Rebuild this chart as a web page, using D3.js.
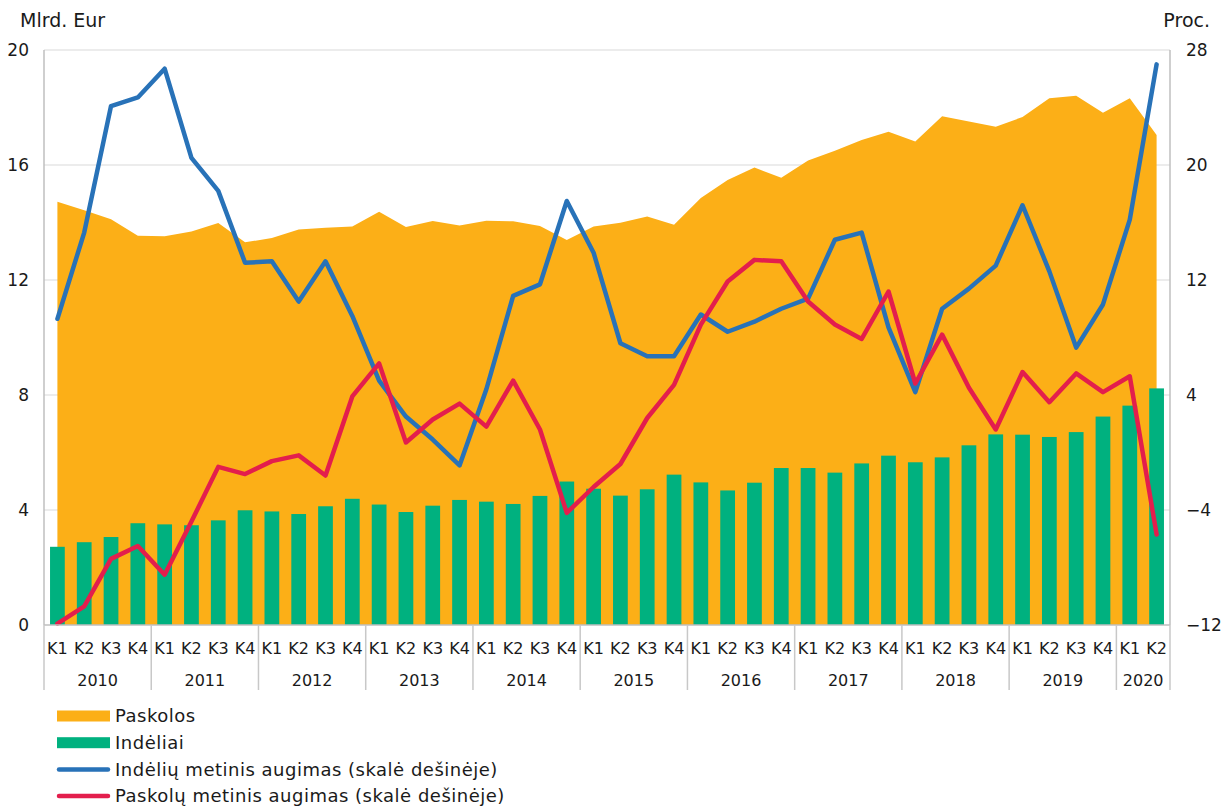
<!DOCTYPE html>
<html>
<head>
<meta charset="utf-8">
<script src="https://cdn.jsdelivr.net/npm/d3@7"></script>
<style>
  body { margin: 0; background: #fff; }
  svg { display: block; font-family: "DejaVu Sans", Verdana, sans-serif; }
</style>
</head>
<body>
<svg width="1221" height="808"></svg>
<script>
var years = ["2010", "2011", "2012", "2013", "2014", "2015", "2016", "2017", "2018", "2019", "2020"];
var quarters = ["K1", "K2", "K3", "K4"];

// Mlrd. Eur (left scale)
var loans = [14.72, 14.43, 14.11, 13.54, 13.52, 13.69, 13.98, 13.31, 13.46, 13.76, 13.82, 13.86,
  14.37, 13.84, 14.05, 13.90, 14.06, 14.04, 13.88, 13.39, 13.86, 13.99, 14.21, 13.92,
  14.85, 15.48, 15.91, 15.56, 16.16, 16.50, 16.87, 17.16, 16.82, 17.70, 17.51, 17.33,
  17.67, 18.32, 18.41, 17.82, 18.32, 17.04];
var deposits = [2.72, 2.88, 3.06, 3.54, 3.50, 3.47, 3.64, 3.99, 3.95, 3.86, 4.13, 4.39,
  4.19, 3.93, 4.15, 4.35, 4.29, 4.21, 4.49, 4.99, 4.74, 4.50, 4.72, 5.23,
  4.96, 4.68, 4.95, 5.46, 5.46, 5.30, 5.62, 5.89, 5.66, 5.83, 6.25, 6.63,
  6.62, 6.54, 6.71, 7.25, 7.63, 8.23];

// Proc. (right scale)
var depositGrowth = [9.3, 15.3, 24.1, 24.7, 26.7, 20.5, 18.2, 13.2, 13.3, 10.5, 13.3, 9.5,
  5.0, 2.5, 0.9, -0.9, 4.4, 10.9, 11.7, 17.5, 13.9, 7.6, 6.7, 6.7,
  9.6, 8.4, 9.1, 10.0, 10.7, 14.8, 15.3, 8.7, 4.2, 10.0, 11.4, 13.0,
  17.2, 12.6, 7.3, 10.3, 16.2, 27.0];
var loanGrowth = [-11.9, -10.7, -7.4, -6.5, -8.5, -4.8, -1.0, -1.5, -0.6, -0.2, -1.6, 3.9,
  6.2, 0.7, 2.3, 3.4, 1.8, 5.0, 1.6, -4.2, -2.4, -0.8, 2.4, 4.7,
  8.9, 11.9, 13.4, 13.3, 10.5, 8.9, 7.9, 11.2, 4.8, 8.2, 4.5, 1.6,
  5.6, 3.5, 5.5, 4.2, 5.3, -5.7];

var leftTicks = [0, 4, 8, 12, 16, 20];
var rightTicks = [-12, -4, 4, 12, 20, 28];

var colors = { loans: "#fcaf17", deposits: "#00b17f", depGrowth: "#2872b8", loanGrowth: "#e31e4d" };

// quarter labels: full years, 2020 only up to K2
var periods = [];
years.forEach(function (y) {
  quarters.forEach(function (q) {
    if (periods.length < loans.length) periods.push({ year: y, q: q });
  });
});

var svg = d3.select("svg");
var plotLeft = 44, plotRight = 1170, plotTop = 50, plotBottom = 625;

var x = d3.scaleBand()
  .domain(d3.range(periods.length))
  .range([plotLeft, plotRight])
  .paddingInner(0.45)
  .paddingOuter(0.225);
var cx = function (i) { return x(i) + x.bandwidth() / 2; };

var yL = d3.scaleLinear().domain([0, 20]).range([plotBottom, plotTop]);
var yR = d3.scaleLinear().domain([-12, 28]).range([plotBottom, plotTop]);

// gridlines
svg.append("g")
  .selectAll("line")
  .data(leftTicks.slice(1))
  .enter().append("line")
  .attr("x1", plotLeft).attr("x2", plotRight)
  .attr("y1", function (d) { return yL(d); })
  .attr("y2", function (d) { return yL(d); })
  .attr("stroke", "#d9d9d9")
  .attr("stroke-width", 1.2);

// loans area
var area = d3.area()
  .x(function (d, i) { return cx(i); })
  .y0(yL(0))
  .y1(function (d) { return yL(d); });

svg.append("path")
  .datum(loans)
  .attr("d", area)
  .attr("fill", colors.loans);

// deposits bars
svg.append("g")
  .selectAll("rect")
  .data(deposits)
  .enter().append("rect")
  .attr("x", function (d, i) { return x(i); })
  .attr("y", function (d) { return yL(d); })
  .attr("width", x.bandwidth())
  .attr("height", function (d) { return yL(0) - yL(d); })
  .attr("fill", colors.deposits);

// growth lines
var lineR = d3.line()
  .x(function (d, i) { return cx(i); })
  .y(function (d) { return yR(d); });

svg.append("path")
  .datum(depositGrowth)
  .attr("d", lineR)
  .attr("fill", "none")
  .attr("stroke", colors.depGrowth)
  .attr("stroke-width", 4.5)
  .attr("stroke-linejoin", "round")
  .attr("stroke-linecap", "round");

svg.append("path")
  .datum(loanGrowth)
  .attr("d", lineR)
  .attr("fill", "none")
  .attr("stroke", colors.loanGrowth)
  .attr("stroke-width", 4.5)
  .attr("stroke-linejoin", "round")
  .attr("stroke-linecap", "round");

// axis lines
svg.append("line")
  .attr("x1", plotLeft).attr("x2", plotLeft).attr("y1", plotTop).attr("y2", plotBottom)
  .attr("stroke", "#bfbfbf").attr("stroke-width", 1.5);
svg.append("line")
  .attr("x1", plotRight).attr("x2", plotRight).attr("y1", plotTop).attr("y2", plotBottom)
  .attr("stroke", "#bfbfbf").attr("stroke-width", 1.5);
svg.append("line")
  .attr("x1", plotLeft).attr("x2", plotRight).attr("y1", plotBottom).attr("y2", plotBottom)
  .attr("stroke", "#bfbfbf").attr("stroke-width", 1.5);

// left axis
var axL = svg.append("g")
  .attr("transform", "translate(" + plotLeft + ",0)")
  .call(d3.axisLeft(yL).tickValues(leftTicks).tickSize(0).tickPadding(15));
axL.select(".domain").remove();
axL.selectAll("text").attr("font-size", 17).attr("fill", "#1a1a1a")
  .attr("font-family", "DejaVu Sans, sans-serif");

// right axis
var axR = svg.append("g")
  .attr("transform", "translate(" + plotRight + ",0)")
  .call(d3.axisRight(yR).tickValues(rightTicks).tickSize(0).tickPadding(16));
axR.select(".domain").remove();
axR.selectAll("text").attr("font-size", 17).attr("fill", "#1a1a1a")
  .attr("font-family", "DejaVu Sans, sans-serif");

// axis titles
svg.append("text").attr("x", 20).attr("y", 27)
  .attr("font-size", 19).attr("fill", "#1a1a1a").text("Mlrd. Eur");
svg.append("text").attr("x", 1210).attr("y", 27).attr("text-anchor", "end")
  .attr("font-size", 19).attr("fill", "#1a1a1a").text("Proc.");

// quarter labels
svg.append("g")
  .selectAll("text")
  .data(periods)
  .enter().append("text")
  .attr("x", function (d, i) { return cx(i); })
  .attr("y", 648)
  .attr("dy", "0.35em")
  .attr("text-anchor", "middle")
  .attr("font-size", 16)
  .attr("fill", "#1a1a1a")
  .text(function (d) { return d.q; });

// year groups
var yearGroups = years.map(function (y) {
  var idx = periods.map(function (p, i) { return p.year === y ? i : -1; }).filter(function (i) { return i >= 0; });
  return { year: y, first: idx[0], last: idx[idx.length - 1] };
});

svg.append("g")
  .selectAll("text")
  .data(yearGroups)
  .enter().append("text")
  .attr("x", function (d) { return (cx(d.first) + cx(d.last)) / 2; })
  .attr("y", 680)
  .attr("dy", "0.35em")
  .attr("text-anchor", "middle")
  .attr("font-size", 16)
  .attr("fill", "#1a1a1a")
  .text(function (d) { return d.year; });

var step = x.step();
var seps = yearGroups.map(function (d) { return x(d.first) - step * x.paddingInner() / 2; });
seps.push(plotRight);
svg.append("g")
  .selectAll("line")
  .data(seps)
  .enter().append("line")
  .attr("x1", function (d) { return d; })
  .attr("x2", function (d) { return d; })
  .attr("y1", plotBottom)
  .attr("y2", 690)
  .attr("stroke", "#c8c8c8")
  .attr("stroke-width", 1.5);

// legend
var legendItems = [
  { name: "Paskolos", color: colors.loans, type: "rect" },
  { name: "Indėliai", color: colors.deposits, type: "rect" },
  { name: "Indėlių metinis augimas (skalė dešinėje)", color: colors.depGrowth, type: "line" },
  { name: "Paskolų metinis augimas (skalė dešinėje)", color: colors.loanGrowth, type: "line" }
];

var legend = svg.append("g")
  .selectAll("g")
  .data(legendItems)
  .enter().append("g")
  .attr("transform", function (d, i) { return "translate(57," + (716 + i * 26.7) + ")"; });

legend.filter(function (d) { return d.type === "rect"; })
  .append("rect")
  .attr("x", 0).attr("y", -5.5).attr("width", 53).attr("height", 11)
  .attr("fill", function (d) { return d.color; });

legend.filter(function (d) { return d.type === "line"; })
  .append("line")
  .attr("x1", 2).attr("x2", 51).attr("y1", 0).attr("y2", 0)
  .attr("stroke", function (d) { return d.color; })
  .attr("stroke-width", 4.5)
  .attr("stroke-linecap", "round");

legend.append("text")
  .attr("x", 58)
  .attr("dy", "0.35em")
  .attr("font-size", 18)
  .attr("letter-spacing", 0.5)
  .attr("fill", "#1a1a1a")
  .text(function (d) { return d.name; });
</script>
</body>
</html>
